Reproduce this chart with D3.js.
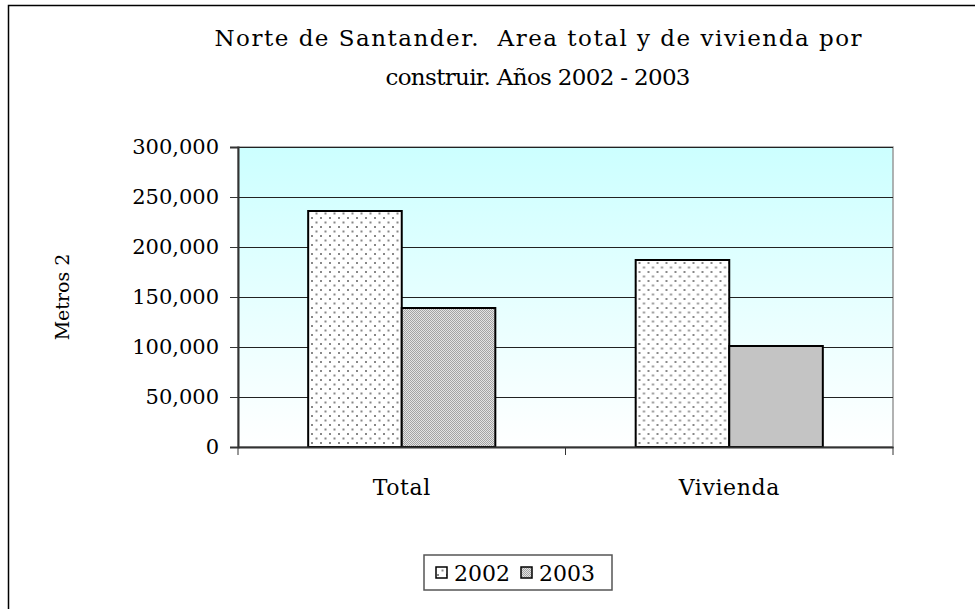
<!DOCTYPE html>
<html>
<head>
<meta charset="utf-8">
<script src="https://cdn.jsdelivr.net/npm/d3@7"></script>
<style>
  body { margin: 0; background: #fff; }
  text { font-family: "DejaVu Serif", serif; fill: #000; }
</style>
</head>
<body>
<svg></svg>
<script>
let width = 975;
let height = 609;

// data
let categories = ['Total', 'Vivienda'];
let years = ['2002', '2003'];
let values2002 = [236000, 187000];
let values2003 = [139000, 101000];
let yTicks = [0, 50000, 100000, 150000, 200000, 250000, 300000];

let svg = d3.select('svg')
    .attr('width', width)
    .attr('height', height);

let defs = svg.append('defs');

// light cyan fading to white for the plot area
let grad = defs.append('linearGradient')
    .attr('id', 'bg')
    .attr('x1', 0).attr('y1', 0).attr('x2', 0).attr('y2', 1);
grad.append('stop').attr('offset', '0%').attr('stop-color', '#ccffff');
grad.append('stop').attr('offset', '100%').attr('stop-color', '#ffffff');

// dotted pattern for 2002
let dots = defs.append('pattern')
    .attr('id', 'dots')
    .attr('width', 9).attr('height', 9)
    .attr('patternUnits', 'userSpaceOnUse');
dots.append('rect').attr('width', 9).attr('height', 9).attr('fill', '#fff');
dots.append('rect').attr('x', 1).attr('y', 1).attr('width', 2).attr('height', 2).attr('fill', '#888');
dots.append('rect').attr('x', 5.5).attr('y', 5.5).attr('width', 2).attr('height', 2).attr('fill', '#888');

// fine checker for 2003
let fine = defs.append('pattern')
    .attr('id', 'fine')
    .attr('width', 2).attr('height', 2)
    .attr('patternUnits', 'userSpaceOnUse');
fine.append('rect').attr('width', 2).attr('height', 2).attr('fill', '#e4e4e4');
fine.append('rect').attr('width', 1).attr('height', 1).attr('fill', '#a4a4a4');
fine.append('rect').attr('x', 1).attr('y', 1).attr('width', 1).attr('height', 1).attr('fill', '#a4a4a4');

let fills = { '2002': 'url(#dots)', '2003': 'url(#fine)' };

// outer frame (runs off right and bottom edges)
svg.append('rect')
    .attr('x', 8.5).attr('y', 5.5)
    .attr('width', 1000).attr('height', 700)
    .attr('fill', 'none')
    .attr('stroke', '#000')
    .attr('stroke-width', 1.5);

let plot = { left: 238, right: 893, top: 147, bottom: 447 };

let x0 = d3.scaleBand()
    .domain(categories)
    .range([plot.left, plot.right]);

let barW = x0.bandwidth() / 3.5;
let x1 = d3.scaleBand()
    .domain(years)
    .range([0.75 * barW, 2.75 * barW]);

let y = d3.scaleLinear()
    .domain([0, 300000])
    .range([plot.bottom, plot.top]);

// plot background
svg.append('rect')
    .attr('x', plot.left).attr('y', plot.top)
    .attr('width', plot.right - plot.left)
    .attr('height', plot.bottom - plot.top)
    .attr('fill', 'url(#bg)')
    .attr('stroke', '#999')
    .attr('stroke-width', 1.5);

// gridlines
svg.append('g')
    .selectAll('line')
    .data(yTicks.filter(d => d > 0))
    .enter()
    .append('line')
    .attr('x1', plot.left).attr('x2', plot.right)
    .attr('y1', d => Math.round(y(d)) + 0.5)
    .attr('y2', d => Math.round(y(d)) + 0.5)
    .attr('stroke', '#222')
    .attr('stroke-width', 1);

// bars
let rows = categories.map((c, i) => ({ cat: c, vals: [values2002[i], values2003[i]] }));
let groups = svg.append('g')
    .selectAll('g')
    .data(rows)
    .enter()
    .append('g')
    .attr('transform', d => `translate(${x0(d.cat)},0)`);

groups.selectAll('rect')
    .data(d => d.vals.map((v, i) => ({ year: years[i], v: v })))
    .enter()
    .append('rect')
    .attr('x', d => x1(d.year))
    .attr('y', d => y(d.v))
    .attr('width', x1.bandwidth())
    .attr('height', d => plot.bottom - y(d.v))
    .attr('fill', d => fills[d.year])
    .attr('stroke', '#000')
    .attr('stroke-width', 2);

// y axis
let yAxis = svg.append('g')
    .attr('transform', `translate(${plot.left},0)`)
    .call(d3.axisLeft(y)
        .tickValues(yTicks)
        .tickSize(8)
        .tickPadding(11)
        .tickFormat(d3.format(',')));
yAxis.select('.domain').attr('stroke', '#333').attr('stroke-width', 2);
yAxis.selectAll('.tick line').attr('stroke', '#333');
yAxis.selectAll('text').style('font-size', '21px').attr('fill', '#000');

// x axis
let xAxis = svg.append('g')
    .attr('transform', `translate(0,${plot.bottom})`)
    .call(d3.axisBottom(x0).tickSize(0).tickPadding(32));
xAxis.select('.domain').attr('stroke', '#333').attr('stroke-width', 2);
xAxis.selectAll('text')
    .style('font-size', '22px')
    .style('letter-spacing', '0.6px')
    .attr('fill', '#000');

// category separator ticks
svg.append('g')
    .selectAll('line')
    .data([plot.left, plot.left + x0.bandwidth(), plot.right])
    .enter()
    .append('line')
    .attr('x1', d => d).attr('x2', d => d)
    .attr('y1', plot.bottom).attr('y2', plot.bottom + 8)
    .attr('stroke', '#333');

// title
let title = svg.append('text')
    .attr('text-anchor', 'middle')
    .style('white-space', 'pre')
    .style('font-size', '23px');
title.append('tspan').attr('x', 538).attr('y', 46)
    .attr('textLength', 647)
    .attr('lengthAdjust', 'spacing')
    .text('Norte de Santander.  Area total y de vivienda por');
title.append('tspan').attr('x', 538).attr('y', 85)
    .attr('textLength', 305)
    .attr('lengthAdjust', 'spacing')
    .text('construir. Años 2002 - 2003');

// y label
svg.append('text')
    .attr('transform', `translate(69,${(plot.top + plot.bottom) / 2}) rotate(-90)`)
    .attr('text-anchor', 'middle')
    .style('font-size', '19px')
    .text('Metros 2');

// legend
let legend = svg.append('g').attr('transform', 'translate(424,555)');
legend.append('rect')
    .attr('width', 188).attr('height', 35)
    .attr('fill', '#fff')
    .attr('stroke', '#555')
    .attr('stroke-width', 1.5);

let legendItems = legend.selectAll('g.item')
    .data(years)
    .enter()
    .append('g')
    .classed('item', true)
    .attr('transform', (d, i) => `translate(${12 + i * 85},0)`);

legendItems.append('rect')
    .attr('x', 0).attr('y', 12)
    .attr('width', 11).attr('height', 11)
    .attr('fill', d => fills[d])
    .attr('stroke', '#000')
    .attr('stroke-width', 1.5);

legendItems.append('text')
    .attr('x', 18).attr('y', 26)
    .style('font-size', '22px')
    .text(d => d);
</script>
</body>
</html>
